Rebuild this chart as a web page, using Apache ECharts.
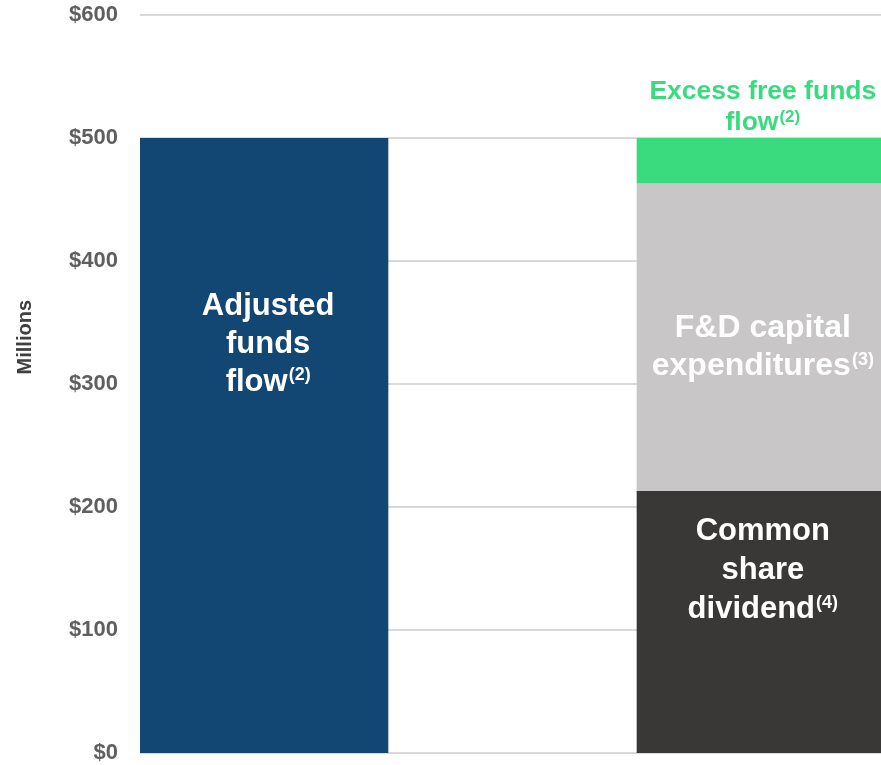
<!DOCTYPE html>
<html style="height: 100%">
<head>
<meta charset="utf-8">
</head>
<body style="height: 100%; margin: 0; background: #fff">
<div id="container" style="width: 881px; height: 765px"></div>
<script src="https://cdn.jsdelivr.net/npm/echarts@6/dist/echarts.min.js"></script>
<script>
// categories along x: first bar, empty gap, second (stacked) bar
var categories = ['Adjusted funds flow', '', 'Uses'];
var adjustedFlow = [500, null, null];
var dividend = [null, null, 213];
var capex = [null, null, 250];
var excessFlow = [null, null, 37];
var yTicks = { min: 0, max: 600, step: 100 };

var font = 'Liberation Sans, Arial, sans-serif';
var chart = echarts.init(document.getElementById('container'));

function whiteRich(size, lh) {
    return {
        t: { color: '#fff', fontSize: size, fontWeight: 'bold', fontFamily: font, lineHeight: lh },
        s: { color: '#fff', fontSize: 18, fontWeight: 'bold', fontFamily: font, lineHeight: lh, padding: [0, 0, 13, 1] }
    };
}

var option = {
    animation: false,
    grid: { left: 140, width: 745, top: 15, bottom: 12, outerBoundsMode: 'none' },
    xAxis: {
        type: 'category',
        data: categories,
        show: false
    },
    yAxis: {
        type: 'value',
        min: yTicks.min,
        max: yTicks.max,
        interval: yTicks.step,
        axisLine: { show: false },
        axisTick: { show: false },
        axisLabel: {
            margin: 22,
            color: '#5f5f5f',
            fontSize: 22,
            fontWeight: 'bold',
            fontFamily: font,
            formatter: function (v) { return '$' + v; }
        },
        splitLine: { lineStyle: { color: '#d9d9d9', width: 2 } }
    },
    graphic: [{
        type: 'text',
        left: 15,
        top: 300,
        rotation: Math.PI / 2,
        style: {
            text: 'Millions',
            fill: '#404040',
            font: 'bold 20px ' + font
        }
    }],
    series: [
        {
            name: 'Adjusted funds flow',
            type: 'bar',
            stack: 'total',
            barCategoryGap: '0%',
            data: adjustedFlow,
            itemStyle: { color: '#124673' },
            label: {
                show: true,
                position: 'insideTop',
                distance: 149,
                offset: [4, 0],
                formatter: '{t|Adjusted}\n{t|funds}\n{t|flow}{s|(2)}',
                rich: whiteRich(31, 38)
            }
        },
        {
            name: 'Common share dividend',
            type: 'bar',
            stack: 'total',
            data: dividend,
            itemStyle: { color: '#3a3837' },
            label: {
                show: true,
                position: 'insideTop',
                distance: 21,
                offset: [2, 0],
                formatter: '{t|Common}\n{t|share}\n{t|dividend}{s|(4)}',
                rich: whiteRich(31, 39)
            }
        },
        {
            name: 'F&D capital expenditures',
            type: 'bar',
            stack: 'total',
            data: capex,
            itemStyle: { color: '#c8c6c7' },
            label: {
                show: true,
                position: 'inside',
                offset: [2, 10],
                formatter: '{t|F&D capital}\n{t|expenditures}{s|(3)}',
                rich: whiteRich(32, 38)
            }
        },
        {
            name: 'Excess free funds flow',
            type: 'bar',
            stack: 'total',
            data: excessFlow,
            itemStyle: { color: '#3adb7f' },
            label: {
                show: true,
                position: 'top',
                distance: 0,
                offset: [2, 0],
                formatter: '{t|Excess free funds}\n{t|flow}{s|(2)}',
                rich: {
                    t: { color: '#3adb7f', fontSize: 26.5, fontWeight: 'bold', fontFamily: font, lineHeight: 31 },
                    s: { color: '#3adb7f', fontSize: 17, fontWeight: 'bold', fontFamily: font, lineHeight: 31, padding: [0, 0, 11, 1] }
                }
            }
        }
    ]
};

chart.setOption(option);
</script>
</body>
</html>
